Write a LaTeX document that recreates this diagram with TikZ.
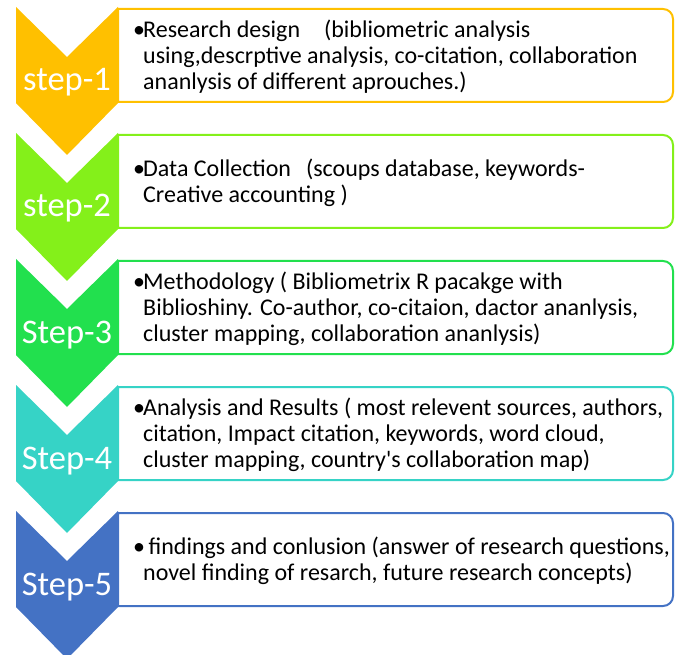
\documentclass[tikz,border=0pt]{standalone}
\usepackage{fontspec}
\setmainfont{Carlito}
\usepackage{xcolor}
\usepackage{tikz}
\usetikzlibrary{positioning}

\definecolor{stepone}{HTML}{FFC000}
\definecolor{steptwo}{HTML}{84F01A}
\definecolor{stepthree}{HTML}{22E04E}
\definecolor{stepfour}{HTML}{36D3C6}
\definecolor{stepfive}{HTML}{4472C4}

\begin{document}
\begin{tikzpicture}[x=1pt, y=-1pt,
  steplabel/.style={text=white, anchor=base, inner sep=0pt, font=\fontsize{34.5}{40}\selectfont},
  stepbox/.style={line width=2pt},
  steptext/.style={anchor=west, align=left, inner sep=0pt, font=\fontsize{24}{26}\selectfont}]
\useasboundingbox (0,0) rectangle (675,655);

% step 1
\draw[stepbox, stepone] (118,9) -- (400,9) [rounded corners=10pt] -- (673,9) -- (673,102) -- (400,102) [sharp corners] -- (118,102) -- cycle;
\fill[stepone] (16,7) -- (67,57) -- (118,7) -- (118,103) -- (67,155) -- (16,103) -- cycle;
\node[steplabel] (lab1) at (67,91) {step-1};
\node[steptext] (txt1) at (143,57) {\llap{\makebox[10pt][l]{•}}Research design\hspace{24pt}(bibliometric analysis\\
using,descrptive analysis, co-citation, collaboration\\
ananlysis of different aprouches.)};

% step 2
\draw[stepbox, steptwo] (118,135) -- (400,135) [rounded corners=10pt] -- (673,135) -- (673,228) -- (400,228) [sharp corners] -- (118,228) -- cycle;
\fill[steptwo] (16,133) -- (67,183) -- (118,133) -- (118,229) -- (67,281) -- (16,229) -- cycle;
\node[steplabel] (lab2) at (67,217) {step-2};
\node[steptext] (txt2) at (143,183) {\llap{\makebox[10pt][l]{•}}Data Collection\hspace{15pt}(scoups database, keywords-\\
Creative accounting )};

% step 3
\draw[stepbox, stepthree] (118,261) -- (400,261) [rounded corners=10pt] -- (673,261) -- (673,354) -- (400,354) [sharp corners] -- (118,354) -- cycle;
\fill[stepthree] (16,259) -- (67,309) -- (118,259) -- (118,355) -- (67,407) -- (16,355) -- cycle;
\node[steplabel] (lab3) at (67,343) {Step-3};
\node[steptext] (txt3) at (143,309) {\llap{\makebox[10pt][l]{•}}Methodology ( Bibliometrix R pacakge with\\
Biblioshiny. Co-author, co-citaion, dactor ananlysis,\\
cluster mapping, collaboration ananlysis)};

% step 4
\draw[stepbox, stepfour] (118,387) -- (400,387) [rounded corners=10pt] -- (673,387) -- (673,480) -- (400,480) [sharp corners] -- (118,480) -- cycle;
\fill[stepfour] (16,385) -- (67,435) -- (118,385) -- (118,481) -- (67,533) -- (16,481) -- cycle;
\node[steplabel] (lab4) at (67,469) {Step-4};
\node[steptext] (txt4) at (143,435) {\llap{\makebox[10pt][l]{•}}Analysis and Results ( most relevent sources, authors,\\
citation, Impact citation, keywords, word cloud,\\
cluster mapping, country\textquotesingle s collaboration map)};

% step 5
\draw[stepbox, stepfive] (118,513) -- (400,513) [rounded corners=10pt] -- (673,513) -- (673,606) -- (400,606) [sharp corners] -- (118,606) -- cycle;
\fill[stepfive] (16,511) -- (67,561) -- (118,511) -- (118,607) -- (67,659) -- (16,607) -- cycle;
\node[steplabel] (lab5) at (67,595) {Step-5};
\node[steptext] (txt5) at (143,561) {\llap{\makebox[10pt][l]{•}}\ findings and conlusion (answer of research questions,\\
novel finding of resarch, future research concepts)};
\end{tikzpicture}
\end{document}
